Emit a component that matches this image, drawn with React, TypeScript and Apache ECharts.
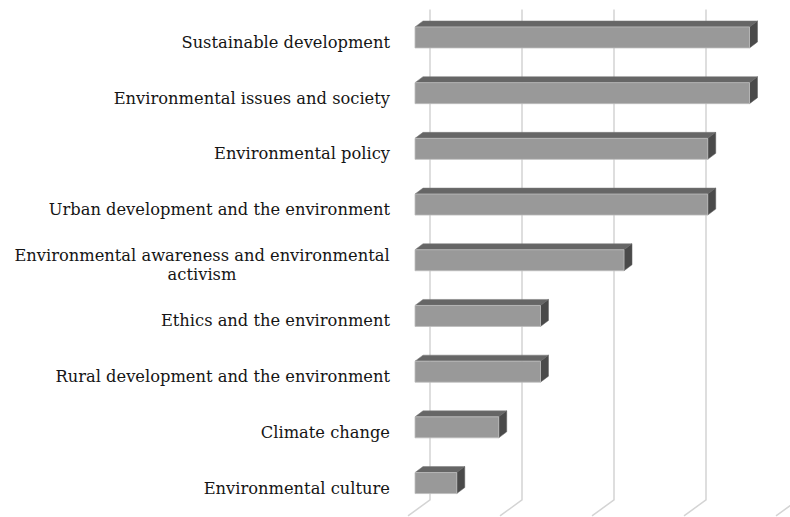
import React, { useEffect, useRef } from "react";
import * as echarts from "echarts";

const categories = [
  "Sustainable development",
  "Environmental issues and society",
  "Environmental policy",
  "Urban development and the environment",
  "Environmental awareness and environmental\nactivism",
  "Ethics and the environment",
  "Rural development and the environment",
  "Climate change",
  "Environmental culture",
];
// percentages (8, 8, 7, 7, 5, 3, 3, 2, 1 of 44)
const values = [18.18, 18.18, 15.91, 15.91, 11.36, 6.82, 6.82, 4.55, 2.27];
const gridTicks = [0, 5, 10, 15, 20];

const FONT = "DejaVu Serif";
const FONT_SIZE = 16.3;
const TEXT_COLOR = "#151515";

function measure(text: string): number {
  const c = document.createElement("canvas").getContext("2d");
  if (!c) return text.length * 9.5;
  c.font = `${FONT_SIZE}px "${FONT}"`;
  return c.measureText(text).width;
}

export default function App() {
  const ref = useRef<HTMLDivElement>(null);
  useEffect(() => {
    if (!ref.current) return;
    const chart = echarts.init(ref.current, null, { renderer: "svg" });
    const DX = 8;
    const DY = 6;
    const BAR_H = 21;
    const WALL_DX = 15;
    const FLOOR_DX = 7;

    const longest = Math.max(
      ...categories.flatMap((c) => c.split("\n")).map((s) => measure(s))
    );

    chart.setOption({
      animation: false,
      backgroundColor: "#ffffff",
      grid: { left: 415, width: 368, top: 9.6, height: 501.3 },
      xAxis: {
        type: "value",
        min: 0,
        max: 20,
        interval: 5,
        show: false,
        splitLine: { show: false },
      },
      yAxis: {
        type: "category",
        inverse: true,
        data: categories,
        axisLine: { show: false },
        axisTick: { show: false },
        splitLine: { show: false },
        axisLabel: {
          margin: 25,
          padding: [10, 0, 0, 0],
          fontFamily: FONT,
          fontSize: FONT_SIZE,
          color: TEXT_COLOR,
          lineHeight: 19,
          formatter: (v: string) => {
            if (v.includes("\n")) {
              return v
                .split("\n")
                .map((s) => `{c|${s}}`)
                .join("\n");
            }
            return `{r|${v}}`;
          },
          rich: {
            r: {
              fontFamily: FONT,
              fontSize: FONT_SIZE,
              color: TEXT_COLOR,
              lineHeight: 19,
            },
            c: {
              fontFamily: FONT,
              fontSize: FONT_SIZE,
              color: TEXT_COLOR,
              lineHeight: 19,
              width: Math.ceil(longest),
              align: "center",
            },
          },
        },
      },
      series: [
        {
          type: "custom",
          name: "grid",
          silent: true,
          data: gridTicks.map((t) => [t, 0]),
          encode: { x: 0, y: 1 },
          z: 1,
          renderItem: (params: any, api: any) => {
            const cs = params.coordSys;
            const x = api.coord([api.value(0), 0])[0];
            const bx = x + WALL_DX;
            const top = cs.y;
            const backBottom = cs.y + cs.height - 11;
            const fx = x - FLOOR_DX;
            const frontBottom = cs.y + cs.height + 5;
            return {
              type: "polyline",
              shape: {
                points: [
                  [bx, top],
                  [bx, backBottom],
                  [fx, frontBottom],
                ],
              },
              style: { stroke: "#d4d4d4", lineWidth: 1.5, fill: "none" },
            };
          },
        },
        {
          type: "custom",
          name: "bars",
          data: values.map((v, i) => [v, i]),
          encode: { x: 0, y: 1 },
          z: 2,
          renderItem: (params: any, api: any) => {
            const idx = api.value(1);
            const p0 = api.coord([0, idx]);
            const p1 = api.coord([api.value(0), idx]);
            const x0 = p0[0];
            const x1 = p1[0];
            const yc = p0[1];
            const yt = yc - BAR_H / 2;
            const yb = yc + BAR_H / 2;
            return {
              type: "group",
              children: [
                {
                  type: "polygon",
                  shape: {
                    points: [
                      [x0, yt],
                      [x0 + DX, yt - DY],
                      [x1 + DX, yt - DY],
                      [x1, yt],
                    ],
                  },
                  style: { fill: "#666666", stroke: "#7a7a7a", lineWidth: 0.5 },
                },
                {
                  type: "polygon",
                  shape: {
                    points: [
                      [x1, yt],
                      [x1 + DX, yt - DY],
                      [x1 + DX, yb - DY],
                      [x1, yb],
                    ],
                  },
                  style: { fill: "#4a4a4a", stroke: "#606060", lineWidth: 0.5 },
                },
                {
                  type: "rect",
                  shape: { x: x0, y: yt, width: x1 - x0, height: BAR_H },
                  style: { fill: "#999999", stroke: "#bdbdbd", lineWidth: 0.8 },
                },
              ],
            };
          },
        },
      ],
    });
    return () => chart.dispose();
  }, []);
  return (
    <div
      ref={ref}
      style={{ position: "fixed", left: 0, top: 0, width: 790, height: 517 }}
    />
  );
}
